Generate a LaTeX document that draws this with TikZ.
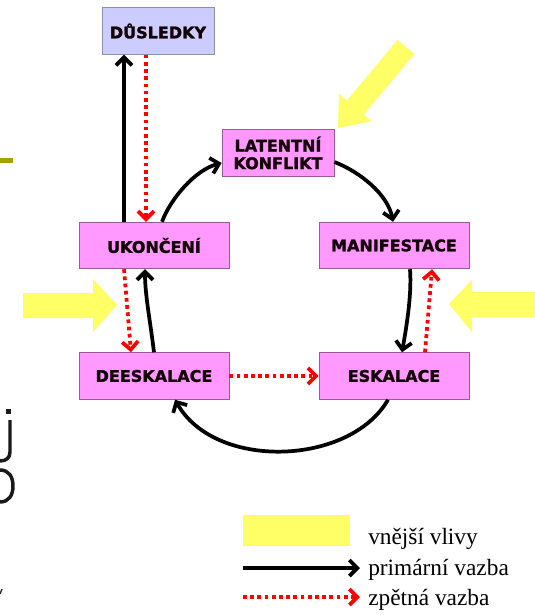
\documentclass[tikz,border=0pt]{standalone}
\usepackage{fontspec}
\setmainfont{Liberation Serif}
\newfontfamily\boxfont[BoldFeatures={FakeBold=1.6}]{DejaVu Sans}
\usetikzlibrary{arrows.meta,calc}
\definecolor{yel}{HTML}{FFFF66}
\definecolor{boxpink}{HTML}{FF99FF}
\definecolor{pinkedge}{HTML}{9A5A9A}
\definecolor{lav}{HTML}{CCCCFF}
\definecolor{lavedge}{HTML}{8E8EB0}
\definecolor{olive}{HTML}{A3A300}
\definecolor{fbred}{HTML}{FF0000}
\tikzset{
  box/.style={draw=pinkedge, line width=0.6pt, fill=boxpink, minimum width=112.5pt,
    minimum height=35pt, inner sep=0pt, align=center, text=black!90!purple,
    font=\boxfont\bfseries\fontsize{12}{13.2}\selectfont},
  smallbox/.style={box, minimum width=84pt},
  prim/.style={line width=2.8pt, -{Straight Barb[length=6pt,width=12pt]}},
  fb/.style={draw=fbred, line width=2.8pt, dash pattern=on 2.8pt off 2.6pt,
    -{Straight Barb[length=6pt,width=12pt]}},
  yarrow/.style={fill=yel, draw=none},
  legtext/.style={anchor=base west, inner sep=0pt, font=\fontsize{17.5}{20}\selectfont},
  frag/.style={line width=2.6pt, black!90}
}
\begin{document}
\begin{tikzpicture}[x=0.75pt,y=-0.75pt]
\useasboundingbox[fill=white] (0,0) rectangle (535,615);

% fragments of the surrounding slide
\fill[olive] (0,158) rectangle (13,163);
\fill[black!90] (6,409) rectangle (11,414);
\draw[frag] (10,420) -- (10,452) .. controls (10,458) and (6,461) .. (0,461);
\draw[frag] (0,470) .. controls (9,470) and (13,477) .. (13,486) .. controls (13,495) and (9,502) .. (0,502);
\draw[line width=1pt, black!85] (0,594) -- (2,589);

% external influences
\path[yarrow] (397.6,40) -- (414.4,54) -- (363.7,114.5) -- (371.6,121.3) -- (338,128)
  -- (339,93.7) -- (346.9,100.5) -- cycle;
\path[yarrow] (23,293) -- (93,293) -- (93,279) -- (117,305) -- (93,332) -- (93,318) -- (23,318) -- cycle;
\path[yarrow] (535,292) -- (472,292) -- (472,280) -- (449,304) -- (472,332) -- (472,317) -- (535,317) -- cycle;

% boxes
\node[smallbox, fill=lav, draw=lavedge] (DS) at (158,31) {DŮSLEDKY};
\node[smallbox] (LK) at (278,153) {LATENTNÍ\\KONFLIKT};
\node[box] (UK) at (154,245.5) {UKONČENÍ};
\node[box] (MA) at (394,245.5) {MANIFESTACE};
\node[box] (DE) at (154,376) {DEESKALACE};
\node[box] (ES) at (394,376) {ESKALACE};

% primary links
\draw[prim] ($(UK.north)+(-30,0)$) -- ($(DS.south)+(-34,0)$);
\draw[prim] ($(UK.north)+(8,0)$) .. controls +(8,-22) and +(-27,7) .. ($(LK.west)+(0,10)$);
\draw[prim] ($(LK.east)+(0,9)$) .. controls +(26,10) and +(-5,-27) .. ($(MA.north)+(-1,0)$);
\draw[prim] ($(MA.south)+(16,0)$) .. controls +(2,26) and +(4,-23) .. ($(ES.north)+(8,0)$);
\draw[prim] ($(ES.south)+(-6,0)$) .. controls +(-38,66) and +(40,71) .. ($(DE.south)+(21,0)$);
\draw[prim] (DE.north) .. controls +(-4,-33) and +(0,26) .. ($(UK.south)+(-9,0)$);

% feedback links
\draw[fb] ($(DS.south)+(-12,0)$) -- ($(UK.north)+(-8,0)$);
\draw[fb] ($(UK.south)+(-30,0)$) -- ($(DE.north)+(-23,0)$);
\draw[fb] (DE.east) -- (ES.west);
\draw[fb] ($(ES.north)+(31,0)$) -- ($(MA.south)+(38,0)$);

% legend
\node[yarrow, minimum width=80.25pt, minimum height=23.25pt, inner sep=0pt] (LY) at (296.5,530.5) {};
\node[legtext] (L1) at (368,544) {vnější vlivy};
\coordinate (P1) at (243,568);
\coordinate (P2) at (360,568);
\draw[prim] (P1) -- (P2);
\node[legtext] (L2) at (368,575) {primární vazba};
\coordinate (R1) at (243,597);
\coordinate (R2) at (360,597);
\draw[fb] (R1) -- (R2);
\node[legtext] (L3) at (368,605) {zpětná vazba};
\end{tikzpicture}
\end{document}
